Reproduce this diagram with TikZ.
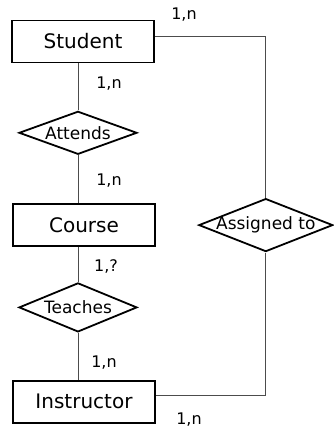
\documentclass[tikz,border=0pt]{standalone}
\usepackage{fontspec}
\setmainfont{DejaVu Sans}
\usetikzlibrary{positioning, shapes.geometric}

\begin{document}
\begin{tikzpicture}[
    entity/.style={
        draw=black,
        line width=1.8pt,
        minimum width=142pt,
        minimum height=42pt,
        inner sep=0pt,
        font=\fontsize{20}{24}\selectfont
    },
    relation/.style={
        draw=black,
        line width=1.8pt,
        diamond,
        aspect=3,
        inner sep=0pt,
        font=\fontsize{17}{20}\selectfont
    },
    card/.style={font=\fontsize{16}{19}\selectfont, inner sep=0pt},
    link/.style={draw=black!70, line width=0.9pt}
]

\useasboundingbox (0,0) rectangle (334pt,-429pt);

% Entities and relationships down the left
\node[entity] (student) at (83pt,-41.5pt) {Student};
\node[relation, minimum width=118pt, minimum height=43pt] (attends) [below=47pt of student, xshift=-5pt] {Attends};
\node[entity] (course) [below=48pt of attends, xshift=6pt] {Course};
\node[relation, minimum width=118pt, minimum height=49pt] (teaches) [below=35pt of course, xshift=-6pt] {Teaches};
\node[entity] (instructor) [below=47pt of teaches, xshift=6pt] {Instructor};

% Relationship on the right, text runs over its corners
\node[relation, inner xsep=-8pt, minimum width=134pt, minimum height=53pt] (assigned) [right=42pt of course] {Assigned to};

% Cardinalities
\node[card] (c_st_at) at (109pt,-84pt) {1,n};
\node[card] (c_co_at) at (109pt,-181pt) {1,n};
\node[card] (c_co_te) at (106pt,-266pt) {1,?};
\node[card] (c_in_te) at (104pt,-363pt) {1,n};
\node[card] (c_st_as) at (184pt,-15pt) {1,n};
\node[card] (c_in_as) at (189pt,-420pt) {1,n};

% Edges
\draw[link] (attends.north) -- (attends.north |- student.south);
\draw[link] (attends.south) -- (attends.south |- course.north);
\draw[link] (teaches.north) -- (teaches.north |- course.south);
\draw[link] (teaches.south) -- (teaches.south |- instructor.north);
\draw[link] ([yshift=5.5pt]student.east) -| (assigned.north);
\draw[link] ([yshift=6pt]instructor.east) -| (assigned.south);

\end{tikzpicture}
\end{document}
